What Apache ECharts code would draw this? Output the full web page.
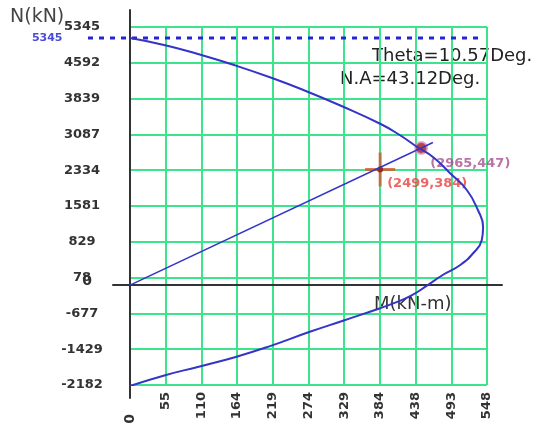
<!DOCTYPE html>
<html>
<head>
<meta charset="utf-8">
<script src="https://cdn.jsdelivr.net/npm/echarts/dist/echarts.min.js"></script>
<style>
  html, body { margin: 0; padding: 0; background: #fff; }
  #pm { width: 539px; height: 429px; }
</style>
</head>
<body>
<div id="pm"></div>
<script>
// interaction curve, M in kN-m, N in kN
var curveM = [0, 54, 104, 161, 218, 269, 322, 384, 414, 441, 465, 491, 517, 534, 542, 540, 527, 507, 480, 457, 430, 405, 384, 327, 276, 215, 161, 104, 54, 0];
var curveP = [5345, 5190, 5000, 4755, 4480, 4205, 3890, 3490, 3247, 2987, 2771, 2425, 2057, 1624, 1257, 976, 694, 435, 218, 0, -240, -390, -500, -770, -1010, -1320, -1560, -1770, -1950, -2182];

// line from origin through the design point
var loadLineM = [0, 465];
var loadLineP = [0, 3085];

var capPoint = [447, 2965];   // on the curve
var loadPoint = [384, 2499];  // applied load
var pMax = 5345;
var pMaxEndM = 542;

var xTickLabels = ['0', '55', '110', '164', '219', '274', '329', '384', '438', '493', '548'];
var yTickLabels = ['-2182', '-1429', '-677', '78', '829', '1581', '2334', '3087', '3839', '4592', '5345'];

var xMin = 0, xMax = 548;
var yMin = -2161, yMax = 5583;

var xTicks = xTickLabels.map(function (s, i) { return xMin + i * (xMax - xMin) / 10; });
var yTicks = yTickLabels.map(function (s, i) { return yMin + i * (yMax - yMin) / 10; });

function nearestIndex(ticks, v) {
  var best = 0;
  for (var i = 1; i < ticks.length; i++) {
    if (Math.abs(ticks[i] - v) < Math.abs(ticks[best] - v)) best = i;
  }
  return best;
}

var green = '#3de48c';
var labelFont = { color: '#333', fontSize: 13, fontWeight: 'bold', fontFamily: 'DejaVu Sans' };

var myChart = echarts.init(document.getElementById('pm'));
var option = {
  animation: false,
  grid: [
    { left: 130, right: 52, top: 27, bottom: 44 },   // plot
    { left: 113, right: 37, top: 10, bottom: 31 },   // black axes
    { left: 88, right: 52, top: 27, bottom: 44 }     // Pmax dotted line
  ],
  xAxis: [
    {
      gridIndex: 0, type: 'value', min: xMin, max: xMax,
      axisLine: { show: false },
      axisTick: { show: false, customValues: xTicks },
      splitLine: { show: true, lineStyle: { color: green, width: 2 } },
      axisLabel: Object.assign({
        customValues: xTicks, rotate: 90, margin: 7,
        formatter: function (v) {
          var i = nearestIndex(xTicks, v);
          return i === 0 ? '{z|' + xTickLabels[0] + '}' : xTickLabels[i];
        },
        rich: { z: { padding: [0, 22, 0, 0], color: '#333', fontSize: 14, fontWeight: 'bold', fontFamily: 'DejaVu Sans' } }
      }, labelFont)
    },
    {
      gridIndex: 1, type: 'value', min: -26.1, max: 571,
      axisLine: { onZero: true, lineStyle: { color: '#333', width: 2 } },
      axisTick: { show: false }, axisLabel: { show: false }, splitLine: { show: false }
    },
    { gridIndex: 2, type: 'value', min: -64.5, max: xMax, show: false }
  ],
  yAxis: [
    {
      gridIndex: 0, type: 'value', min: yMin, max: yMax,
      axisLine: { show: false },
      axisTick: { show: false, customValues: yTicks },
      splitLine: { show: true, lineStyle: { color: green, width: 2 } },
      axisLabel: Object.assign({
        customValues: yTicks, margin: 48, align: 'center',
        formatter: function (v) { return yTickLabels[nearestIndex(yTicks, v)]; }
      }, labelFont)
    },
    {
      gridIndex: 1, type: 'value', min: -2442, max: 5951,
      axisLine: { onZero: true, lineStyle: { color: '#333', width: 2 } },
      axisTick: { show: false, customValues: [0] }, splitLine: { show: false },
      axisLabel: Object.assign({ customValues: [0], margin: 26, align: 'center', verticalAlign: 'bottom', padding: [0, 0, -3, 0] }, labelFont, { fontSize: 14 })
    },
    { gridIndex: 2, type: 'value', min: yMin, max: yMax, show: false }
  ],
  graphic: [
    { type: 'text', left: 10, top: 8, style: { text: 'N(kN)', font: '19px "DejaVu Sans"', fill: '#444' } },
    { type: 'text', left: 374, top: 295, style: { text: 'M(kN-m)', font: '18px "DejaVu Sans"', fill: '#333' } },
    { type: 'text', left: 372, top: 47, style: { text: 'Theta=10.57Deg.', font: '18px "DejaVu Sans"', fill: '#222' } },
    { type: 'text', left: 340, top: 70, style: { text: 'N.A=43.12Deg.', font: '18px "DejaVu Sans"', fill: '#222' } }
  ],
  series: [
    {
      name: 'Pmax', type: 'line', xAxisIndex: 2, yAxisIndex: 2,
      symbol: 'circle', symbolSize: 1, showSymbol: true,
      itemStyle: { color: 'rgba(0,0,0,0)' },
      lineStyle: { color: '#2424d8', width: 3, type: [5, 6] },
      data: [
        { value: [-64.5, pMax], label: { show: true, position: 'left', distance: 25, formatter: String(pMax), color: '#4a4ad8', fontSize: 11, fontWeight: 'bold', fontFamily: 'DejaVu Sans' } },
        [pMaxEndM, pMax]
      ]
    },
    {
      name: 'curve', type: 'line', smooth: 0.5, symbol: 'none',
      lineStyle: { color: '#3434c8', width: 2 },
      data: curveM.map(function (m, i) { return [m, curveP[i]]; })
    },
    {
      name: 'load line', type: 'line', symbol: 'none',
      lineStyle: { color: '#3434c8', width: 1.5 },
      data: loadLineM.map(function (m, i) { return [m, loadLineP[i]]; })
    },
    {
      name: 'load', type: 'scatter',
      symbol: 'path://M0,15.5h30v3h-30z M13.5,0h3v34h-3z', symbolSize: [30, 34],
      itemStyle: { color: '#d0582e' },
      label: {
        show: true, position: 'inside', align: 'left', verticalAlign: 'top', offset: [7, 8],
        formatter: '(' + loadPoint[1] + ',' + loadPoint[0] + ')',
        color: '#e8403c', fontSize: 13, fontWeight: 'bold', fontFamily: 'DejaVu Sans'
      },
      data: [loadPoint]
    },
    {
      name: 'load dot', type: 'scatter', symbolSize: 6,
      itemStyle: { color: '#8a1a1a' },
      data: [loadPoint]
    },
    {
      name: 'capacity', type: 'scatter', symbolSize: 12,
      itemStyle: { color: '#a41616', borderColor: '#e2a2c8', borderWidth: 2 },
      label: {
        show: true, position: 'inside', align: 'left', verticalAlign: 'top', offset: [9, 9],
        formatter: '(' + capPoint[1] + ',' + capPoint[0] + ')',
        color: '#a8508e', fontSize: 13, fontWeight: 'bold', fontFamily: 'DejaVu Sans'
      },
      data: [capPoint]
    }
  ]
};
myChart.setOption(option);
</script>
</body>
</html>
